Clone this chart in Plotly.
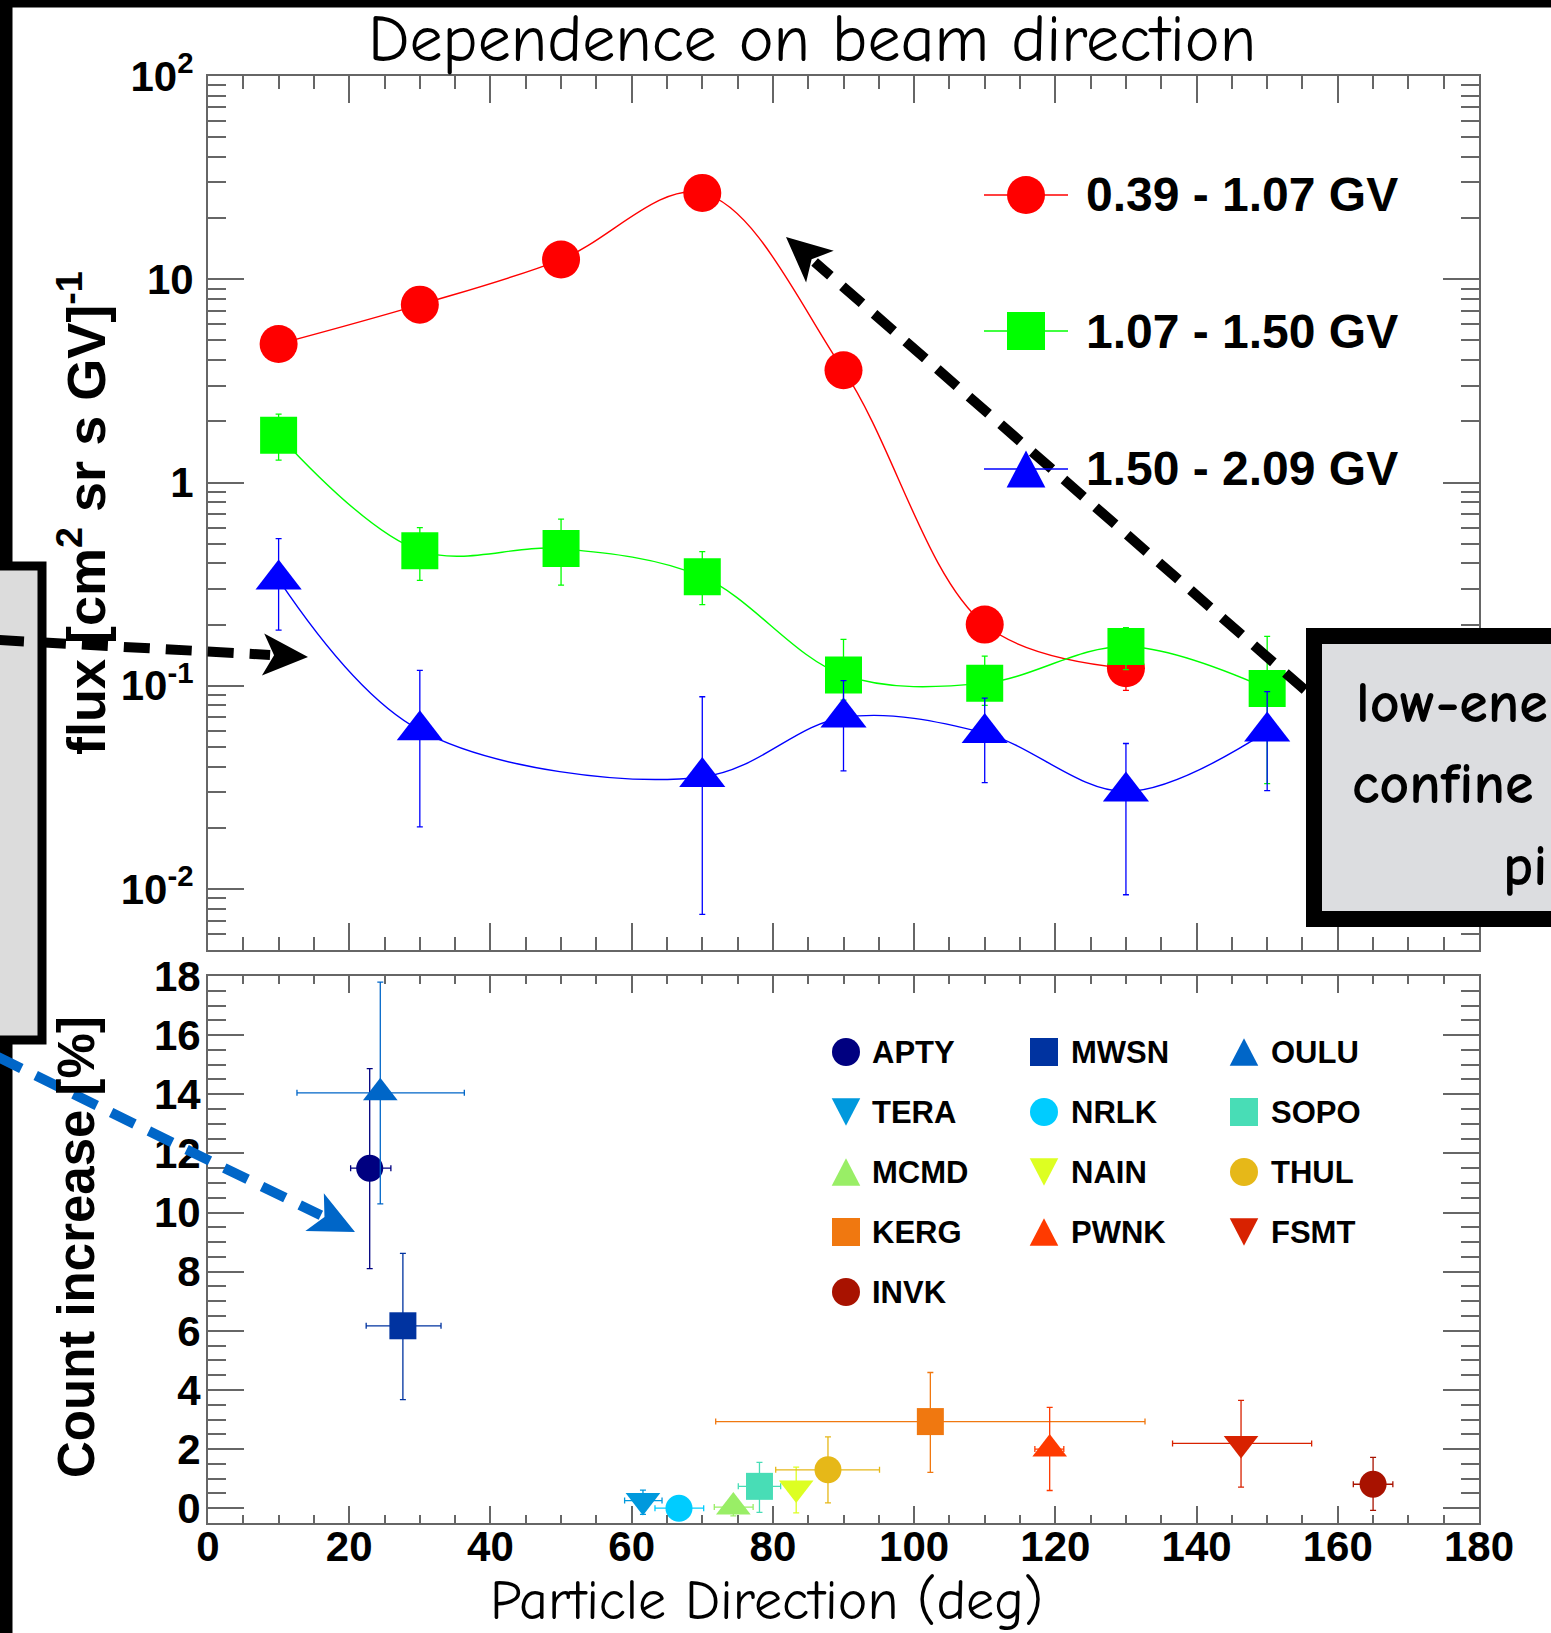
import math
import plotly.graph_objects as go

# ---------------- data: top panel (flux vs particle direction) ----------------
angles = [10, 30, 50, 70, 90, 110, 130, 150]

red_name = "0.39 - 1.07 GV"
red_x = [10, 30, 50, 70, 90, 110, 130]
red_y = [4.8, 7.5, 12.5, 26.6, 3.57, 0.20, 0.122]
red_hi = [5.2, 8.0, 13.3, 28.0, 3.8, 0.215, 0.13]
red_lo = [4.4, 7.0, 11.7, 25.2, 3.35, 0.185, 0.095]

green_name = "1.07 - 1.50 GV"
green_x = angles
green_y = [1.71, 0.462, 0.473, 0.344, 0.113, 0.103, 0.156, 0.097]
green_hi = [2.17, 0.60, 0.66, 0.457, 0.169, 0.14, 0.193, 0.175]
green_lo = [1.29, 0.33, 0.313, 0.251, 0.085, 0.08, 0.12, 0.033]

blue_name = "1.50 - 2.09 GV"
blue_x = [10, 30, 70, 90, 110, 130, 150]
blue_y = [0.333, 0.0605, 0.0356, 0.0698, 0.0585, 0.0302, 0.0596]
blue_hi = [0.53, 0.119, 0.0883, 0.106, 0.087, 0.052, 0.0935]
blue_lo = [0.188, 0.0202, 0.0075, 0.0381, 0.0334, 0.00937, 0.0305]

# ---------------- data: bottom panel (neutron monitor count increase) ----------------
stations = ["APTY", "MWSN", "OULU", "TERA", "NRLK", "SOPO", "MCMD",
            "NAIN", "THUL", "KERG", "PWNK", "FSMT", "INVK"]
direction = [22.9, 27.6, 24.4, 61.6, 66.7, 78.1, 74.4, 83.3, 87.8, 102.3, 119.2, 146.3, 165.0]
dir_err_minus = [2.7, 5.2, 11.8, 2.6, 3.4, 3.0, 2.7, 1.0, 7.4, 30.4, 2.1, 9.7, 2.8]
dir_err_plus = [3.0, 5.4, 11.9, 2.7, 3.5, 3.0, 2.8, 1.0, 7.3, 30.4, 2.0, 10.0, 2.8]
increase = [11.5, 6.17, 14.05, 0.26, 0.0, 0.74, 0.04, 0.68, 1.30, 2.93, 2.0, 2.19, 0.81]
inc_err_minus = [3.4, 2.5, 3.76, 0.47, 0.2, 0.88, 0.3, 0.84, 1.12, 1.72, 1.4, 1.48, 0.88]
inc_err_plus = [3.37, 2.45, 3.74, 0.35, 0.2, 0.81, 0.3, 0.71, 1.11, 1.66, 1.41, 1.46, 0.91]
st_symbols = ["circle", "square", "triangle-up", "triangle-down", "circle", "square",
              "triangle-up", "triangle-down", "circle", "square", "triangle-up",
              "triangle-down", "circle"]
st_colors = ["#000080", "#0033a0", "#0066c8", "#0099dd", "#00ccff", "#48ddb6",
             "#99ee66", "#ddff22", "#e6b818", "#f07810", "#ff3a00", "#d82200", "#a81200"]

# ---------------- layout geometry (pixels) ----------------
W, H = 1551, 1633
ML, MR, MT, MB = 208, 72, 76, 110
PW = W - ML - MR
PH = H - MT - MB


def PX(px):
    return (px - ML) / PW


def PY(py):
    return (H - MB - py) / PH


TOP_DOMAIN = [PY(950), 1.0]
BOT_DOMAIN = [0.0, PY(976)]

fig = go.Figure()


def errs(vals, hi, lo):
    return [h - v for v, h in zip(vals, hi)], [v - l for v, l in zip(vals, lo)]


for name, xs, ys, hi, lo, col, sym, size in [
    (red_name, red_x, red_y, red_hi, red_lo, "#ff0000", "circle", 38),
    (green_name, green_x, green_y, green_hi, green_lo, "#00ff00", "square", 37),
    (blue_name, blue_x, blue_y, blue_hi, blue_lo, "#0000ff", "triangle-up", 40),
]:
    ep, em = errs(ys, hi, lo)
    fig.add_trace(go.Scatter(
        x=xs, y=ys, name=name, mode="lines+markers", xaxis="x", yaxis="y",
        line=dict(color=col, width=1.4, shape="spline", smoothing=1.0),
        marker=dict(symbol=sym, size=size, color=col, line=dict(width=0)),
        error_y=dict(type="data", array=ep, arrayminus=em, color=col, thickness=1.3, width=3),
        showlegend=False,
    ))

for i, st in enumerate(stations):
    sz = 27 if st_symbols[i] in ("circle", "square") else 30
    fig.add_trace(go.Scatter(
        x=[direction[i]], y=[increase[i]], name=st, mode="markers", xaxis="x2", yaxis="y2",
        marker=dict(symbol=st_symbols[i], size=sz, color=st_colors[i], line=dict(width=0)),
        error_x=dict(type="data", array=[dir_err_plus[i]], arrayminus=[dir_err_minus[i]],
                     color=st_colors[i], thickness=1.3, width=3),
        error_y=dict(type="data", array=[inc_err_plus[i]], arrayminus=[inc_err_minus[i]],
                     color=st_colors[i], thickness=1.3, width=3),
        showlegend=False, cliponaxis=False,
    ))

# ---------------- axes ----------------
AX_COL = "#666666"
TICKFONT = dict(family="Liberation Sans, Arial, sans-serif", size=42, color="black", weight="bold")
minor_log = [k * 10.0 ** e for e in range(-3, 2) for k in range(2, 10)]
minor_log = [v for v in minor_log if 10 ** -2.3 <= v <= 100]

common_x = dict(range=[0, 180], showgrid=False, zeroline=False, showline=True,
                linecolor=AX_COL, linewidth=2, mirror="ticks", ticks="inside",
                tickcolor=AX_COL, tickwidth=2, tick0=0, dtick=20)

fig.update_layout(
    xaxis=dict(common_x, anchor="y", domain=[0, 1], ticklen=27, showticklabels=False,
               minor=dict(ticks="inside", dtick=5, ticklen=13, tickcolor=AX_COL, tickwidth=2)),
    yaxis=dict(type="log", range=[-2.3, 2], domain=TOP_DOMAIN, anchor="x",
               showgrid=False, showline=True, linecolor=AX_COL, linewidth=2, mirror="ticks",
               ticks="inside", ticklen=36, tickcolor=AX_COL, tickwidth=2,
               tickvals=[0.01, 0.1, 1, 10, 100],
               ticktext=["10<sup>-2</sup>", "10<sup>-1</sup>", "1", "10", "10<sup>2</sup>"],
               tickfont=TICKFONT, ticklabelstandoff=4,
               minor=dict(ticks="inside", tickvals=minor_log, ticklen=18, tickcolor=AX_COL, tickwidth=2)),
    xaxis2=dict(common_x, anchor="y2", domain=[0, 1], ticklen=17, showticklabels=True,
                tickfont=TICKFONT, ticklabelstandoff=-14,
                minor=dict(ticks="inside", dtick=5, ticklen=8, tickcolor=AX_COL, tickwidth=2)),
    yaxis2=dict(range=[-0.5, 18], domain=BOT_DOMAIN, anchor="x2", showgrid=False, zeroline=False,
                showline=True, linecolor=AX_COL, linewidth=2, mirror="ticks",
                ticks="inside", ticklen=36, tickcolor=AX_COL, tickwidth=2, tick0=0, dtick=2,
                tickfont=TICKFONT, ticklabelstandoff=-3,
                minor=dict(ticks="inside", dtick=0.5, ticklen=18, tickcolor=AX_COL, tickwidth=2)),
)

# ---------------- decorations (shapes) ----------------
shapes = []


def rect(x0, y0, x1, y1, fill, lc=None, lw=0):
    return dict(type="rect", xref="paper", yref="paper", x0=PX(x0), x1=PX(x1), y0=PY(y1), y1=PY(y0),
                fillcolor=fill, line=dict(color=lc or fill, width=lw), layer="above")


def circ(cx, cy, d, color):
    r = d / 2
    return dict(type="circle", xref="paper", yref="paper", x0=PX(cx - r), x1=PX(cx + r),
                y0=PY(cy + r), y1=PY(cy - r), fillcolor=color, line=dict(width=0), layer="above")


def poly(pts, color):
    path = "M " + " L ".join(f"{PX(x):.5f},{PY(y):.5f}" for x, y in pts) + " Z"
    return dict(type="path", xref="paper", yref="paper", path=path, fillcolor=color,
                line=dict(width=0), layer="above")


def seg(x0, y0, x1, y1, color, width, dash=None):
    d = dict(type="line", xref="paper", yref="paper", x0=PX(x0), y0=PY(y0), x1=PX(x1), y1=PY(y1),
             line=dict(color=color, width=width), layer="above")
    if dash:
        d["line"]["dash"] = dash
    return d


def tri(cx, cy, w, h, color, up=True):
    if up:
        pts = [(cx - w / 2, cy + h / 2), (cx + w / 2, cy + h / 2), (cx, cy - h / 2)]
    else:
        pts = [(cx - w / 2, cy - h / 2), (cx + w / 2, cy - h / 2), (cx, cy + h / 2)]
    return poly(pts, color)


def glyph(sym, cx, cy, s, color):
    if sym == "circle":
        return circ(cx, cy, s, color)
    if sym == "square":
        return rect(cx - s / 2, cy - s / 2, cx + s / 2, cy + s / 2, color)
    return tri(cx, cy, s * 1.02, s * 0.98, color, up=(sym == "triangle-up"))


def arrow(tail, tip, color, lh=45, wh=21, notch=11):
    dx, dy = tail[0] - tip[0], tail[1] - tip[1]
    n = math.hypot(dx, dy)
    ux, uy = dx / n, dy / n
    px_, py_ = -uy, ux
    cx, cy = tip[0] + ux * lh, tip[1] + uy * lh
    nx, ny = tip[0] + ux * (lh - notch), tip[1] + uy * (lh - notch)
    out = [seg(tail[0], tail[1], nx + ux * 4, ny + uy * 4, color, 10, dash="26px,16px")]
    out.append(poly([tip, (cx + px_ * wh, cy + py_ * wh), (nx, ny), (cx - px_ * wh, cy - py_ * wh)], color))
    return out


# slide frame remnants
shapes.append(rect(-5, -5, 12.5, H + 5, "black"))
shapes.append(rect(-5, -5, W + 5, 7.5, "black"))
# left grey callout box (cut by the slide edge)
shapes.append(rect(-40, 566, 42, 1040, "#dcdcdc", "black", 9))
# right grey callout box (cut by the slide edge)
shapes.append(rect(1314, 636, 1600, 919, "#dcdde0", "black", 16))

# dashed arrows
shapes += arrow((1305, 690), (786, 237), "black")
shapes += arrow((-2, 640), (308, 657), "black")
shapes += arrow((-2, 1057), (355, 1232), "#0066c8")

# top legend glyphs
top_leg = [(red_name, "#ff0000", "circle", 195), (green_name, "#00ff00", "square", 331),
           (blue_name, "#0000ff", "triangle-up", 469)]
for name, col, sym, yy in top_leg:
    shapes.append(seg(984, yy, 1068, yy, col, 1.5))
    shapes.append(glyph(sym, 1026, yy, 38, col))

# bottom legend glyphs (3 columns, row-major)
col_mark = [846, 1044, 1244]
col_text = [870, 1069, 1269]
row_y = [1052, 1112, 1172, 1232, 1292]
for i, st in enumerate(stations):
    r, c = divmod(i, 3)
    shapes.append(glyph(st_symbols[i], col_mark[c], row_y[r], 28, st_colors[i]))

fig.update_layout(shapes=shapes)

# ---------------- texts ----------------
COMIC = "Comic Sans MS, Comic Neue, Open Sans, sans-serif"
BOLD = "Liberation Sans, Arial, sans-serif"
ann = []
for name, col, sym, yy in top_leg:
    ann.append(dict(text=name, xref="paper", yref="paper", x=PX(1084), y=PY(yy), xanchor="left",
                    yanchor="middle", showarrow=False,
                    font=dict(family=BOLD, size=48, color="black", weight="bold")))
for i, st in enumerate(stations):
    r, c = divmod(i, 3)
    ann.append(dict(text=st, xref="paper", yref="paper", x=PX(col_text[c]), y=PY(row_y[r]),
                    xanchor="left", yanchor="middle", showarrow=False,
                    font=dict(family=BOLD, size=31, color="black", weight="bold")))

ann.append(dict(text="flux [cm<sup>2</sup> sr s GV]<sup>-1</sup>", textangle=-90, xref="paper",
                yref="paper", x=PX(82), y=PY(513), xanchor="center", yanchor="middle",
                showarrow=False, font=dict(family=BOLD, size=54, color="black", weight="bold")))
ann.append(dict(text="Count increase [%]", textangle=-90, xref="paper", yref="paper",
                x=PX(76), y=PY(1247), xanchor="center", yanchor="middle", showarrow=False,
                font=dict(family=BOLD, size=51, color="black", weight="bold")))
ann.append(dict(text="Particle Direction (deg)", xref="paper", yref="paper", x=PX(766), y=PY(1601),
                xanchor="center", yanchor="middle", showarrow=False,
                font=dict(family=COMIC, size=56, color="black")))
ann.append(dict(text="Dependence on beam direction", xref="paper", yref="paper", x=PX(812), y=PY(40),
                xanchor="center", yanchor="middle", showarrow=False,
                font=dict(family=COMIC, size=66, color="black")))
# callout box texts (cut by the slide edge)
for txt, xx, yy in [("low-ene", 1354, 703), ("confine", 1350, 785), ("pi", 1501, 866)]:
    ann.append(dict(text=txt, xref="paper", yref="paper", x=PX(xx), y=PY(yy), xanchor="left",
                    yanchor="middle", showarrow=False,
                    font=dict(family=COMIC, size=58, color="black", weight="bold")))

fig.update_layout(
    annotations=ann,
    width=W, height=H,
    margin=dict(l=ML, r=MR, t=MT, b=MB, autoexpand=False),
    paper_bgcolor="white", plot_bgcolor="white",
    showlegend=False,
)

fig.write_html("out.html", config={"displayModeBar": False},
               post_script="document.body.style.margin='0';document.body.style.overflow='hidden';")
